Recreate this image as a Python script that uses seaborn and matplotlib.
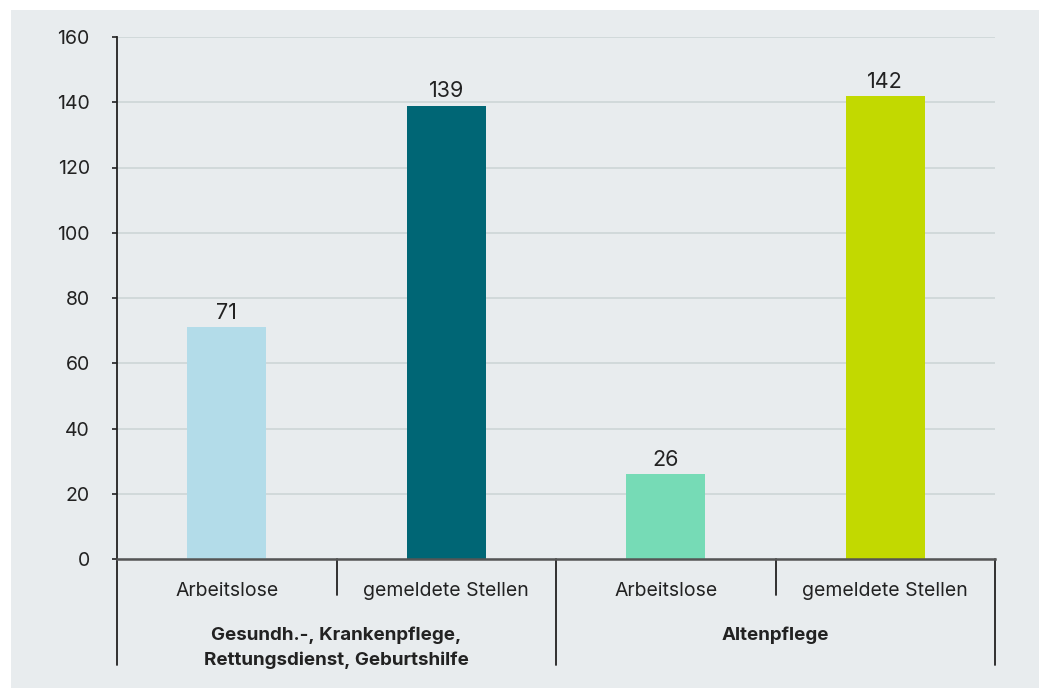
import matplotlib
matplotlib.use("Agg")
import matplotlib.pyplot as plt
import seaborn as sns
import pandas as pd
from matplotlib.patches import Rectangle

# Data
groups = ["Gesundh.-, Krankenpflege,\nRettungsdienst, Geburtshilfe", "Altenpflege"]
categories = ["Arbeitslose", "gemeldete Stellen", "Arbeitslose", "gemeldete Stellen"]
values = [71, 139, 26, 142]
colors = ["#b3dce9", "#006675", "#76dbb6", "#c2d900"]
y_ticks = [0, 20, 40, 60, 80, 100, 120, 140, 160]

sns.set_theme(style="white")
plt.rcParams["font.family"] = ["Inter", "DejaVu Sans"]

bg = "#e8ecee"
text_col = "#222222"

df = pd.DataFrame({
    "slot": [f"{i}" for i in range(len(values))],
    "value": values,
})

fig = plt.figure(figsize=(10.46, 6.88), dpi=100)
fig.patch.set_facecolor("white")
fig.patches.append(Rectangle((11 / 1046, 0), 1028 / 1046, 1 - 10 / 688,
                             transform=fig.transFigure, facecolor=bg,
                             edgecolor="none", zorder=-10))

ax = fig.add_axes([117 / 1046, 1 - 559 / 688, 878 / 1046, 522 / 688])
ax.set_facecolor(bg)

sns.barplot(data=df, x="slot", y="value", hue="slot", palette=colors,
            legend=False, width=0.36, saturation=1, linewidth=0,
            edgecolor="none", ax=ax, zorder=3)

for cont in ax.containers:
    ax.bar_label(cont, labels=[f"{v:.0f}" for v in cont.datavalues],
                 padding=3, fontsize=15.5, color=text_col)

ax.set_xlim(-0.5, 3.5)
ax.set_ylim(0, 160)
ax.set_yticks(y_ticks)
ax.set_yticklabels([str(t) for t in y_ticks], fontsize=14, color=text_col)
ax.yaxis.grid(True, color="#cdd6d6", linewidth=1.2, zorder=0)
ax.set_axisbelow(True)
ax.tick_params(axis="y", which="major", direction="out", length=3.6, width=1.2,
               color=text_col, pad=16, left=True)

ax.set_xticks([])
ax.set_xlabel("")
ax.set_ylabel("")

for side in ["top", "right"]:
    ax.spines[side].set_visible(False)
ax.spines["left"].set_color(text_col)
ax.spines["left"].set_linewidth(1.3)
ax.spines["bottom"].set_color("#555555")
ax.spines["bottom"].set_linewidth(1.8)
ax.spines["bottom"].set_zorder(5)

trans = ax.get_xaxis_transform()
# category labels
for i, cat in enumerate(categories):
    ax.text(i, -0.062, cat, transform=trans, ha="center", va="center",
            fontsize=14, color=text_col)
# group labels
for g, grp in enumerate(groups):
    ax.text(2 * g + 0.5, -0.129, grp, transform=trans, ha="center", va="top",
            fontsize=13.5, fontweight="bold", color=text_col, linespacing=1.6)

# group separators
for x in [-0.5, 1.5, 3.5]:
    ax.plot([x, x], [0, -0.203], transform=trans, color=text_col, lw=1.3,
            clip_on=False)
for x in [0.5, 2.5]:
    ax.plot([x, x], [0, -0.069], transform=trans, color=text_col, lw=1.3,
            clip_on=False)

fig.savefig("out.png", dpi=100, facecolor=fig.get_facecolor())
